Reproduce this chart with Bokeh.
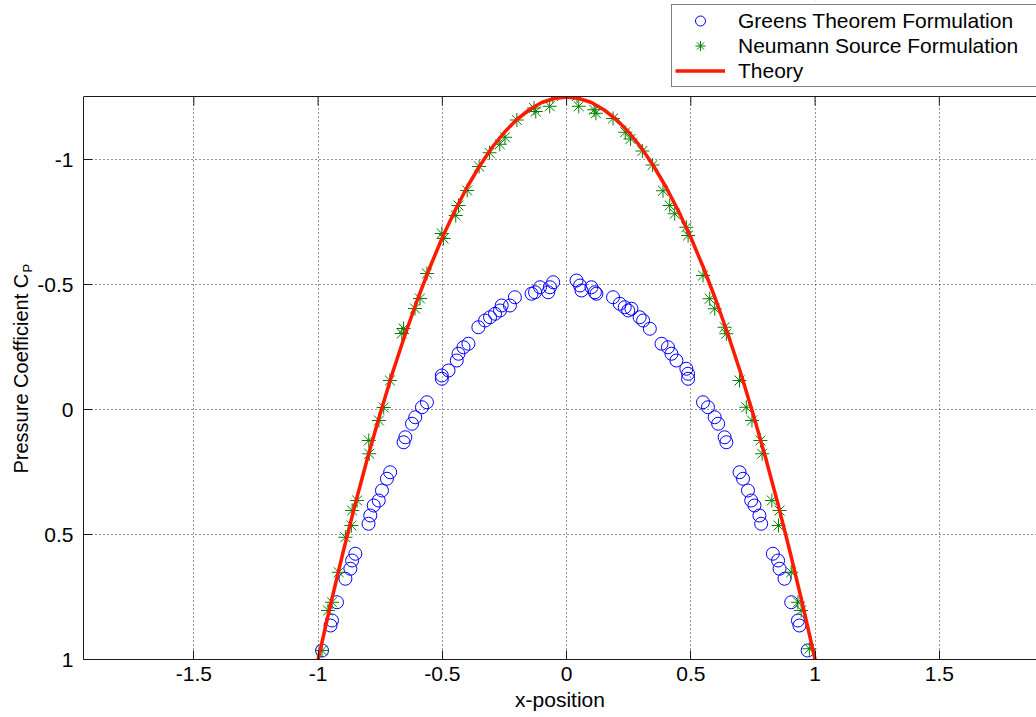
import math
from bokeh.plotting import figure
from bokeh.layouts import row
from bokeh.models import (Range1d, FixedTicker, Legend, LegendItem, Label,
                          BoxAnnotation, Span)
from bokeh.embed import file_html
from bokeh.resources import INLINE

FONT = "Liberation Sans"

# ---- data ----
theory_x = [-1.0, -0.95, -0.9, -0.85, -0.8, -0.75, -0.7, -0.65, -0.6, -0.55, -0.5,
            -0.45, -0.4, -0.35, -0.3, -0.25, -0.2, -0.15, -0.1, -0.05, 0.0,
            0.05, 0.1, 0.15, 0.2, 0.25, 0.3, 0.35, 0.4, 0.45, 0.5,
            0.55, 0.6, 0.65, 0.7, 0.75, 0.8, 0.85, 0.9, 0.95, 1.0]
theory_cp = [1.0, 0.781, 0.573, 0.376, 0.19, 0.016, -0.148, -0.299, -0.44, -0.569, -0.688,
             -0.794, -0.89, -0.974, -1.048, -1.109, -1.16, -1.199, -1.228, -1.244, -1.25,
             -1.244, -1.228, -1.199, -1.16, -1.109, -1.048, -0.974, -0.89, -0.794, -0.688,
             -0.569, -0.44, -0.299, -0.148, 0.016, 0.19, 0.376, 0.573, 0.781, 1.0]

greens_x = [-0.054, -0.067, -0.074, -0.107, -0.127, -0.141, -0.208, -0.228, -0.261, -0.268,
            -0.288, -0.308, -0.328, -0.355, -0.395, -0.415, -0.435, -0.442, -0.475, -0.502,
            -0.502, -0.562, -0.582, -0.609, -0.622, -0.649, -0.656, -0.710, -0.723, -0.743,
            -0.756, -0.776, -0.790, -0.797, -0.850, -0.863, -0.870, -0.890, -0.924, -0.944,
            -0.950, -0.984,
            0.040, 0.054, 0.060, 0.100, 0.114, 0.120, 0.187, 0.214, 0.234, 0.248,
            0.261, 0.294, 0.308, 0.335, 0.382, 0.408, 0.422, 0.442, 0.482, 0.489,
            0.489, 0.549, 0.569, 0.596, 0.610, 0.636, 0.643, 0.696, 0.710, 0.730,
            0.743, 0.756, 0.776, 0.783, 0.830, 0.851, 0.857, 0.877, 0.904, 0.931,
            0.937, 0.970]
greens_cp = [-0.509, -0.489, -0.469, -0.489, -0.469, -0.463, -0.449, -0.416, -0.416, -0.396,
             -0.383, -0.369, -0.356, -0.329, -0.263, -0.249, -0.223, -0.196, -0.156, -0.136,
             -0.123, -0.029, -0.009, 0.031, 0.057, 0.111, 0.131, 0.251, 0.277, 0.324,
             0.364, 0.384, 0.424, 0.457, 0.577, 0.604, 0.637, 0.677, 0.771, 0.844,
             0.864, 0.964,
             -0.516, -0.496, -0.476, -0.489, -0.469, -0.463, -0.449, -0.423, -0.409, -0.396,
             -0.403, -0.369, -0.356, -0.323, -0.263, -0.249, -0.223, -0.196, -0.163, -0.143,
             -0.123, -0.029, -0.009, 0.031, 0.057, 0.111, 0.131, 0.251, 0.277, 0.324,
             0.364, 0.384, 0.424, 0.457, 0.577, 0.604, 0.637, 0.677, 0.771, 0.844,
             0.864, 0.964]

neumann_x = [-0.055, -0.068, -0.124, -0.131, -0.200, -0.248, -0.269, -0.310, -0.352, -0.400,
             -0.435, -0.446, -0.502, -0.495, -0.562, -0.590, -0.610, -0.656, -0.663, -0.711,
             -0.736, -0.755, -0.796, -0.794, -0.843, -0.863, -0.866, -0.890, -0.917, -0.944,
             -0.960, -0.984,
             0.042, 0.049, 0.111, 0.118, 0.187, 0.236, 0.257, 0.305, 0.346, 0.388,
             0.415, 0.435, 0.482, 0.489, 0.549, 0.576, 0.596, 0.636, 0.643, 0.696,
             0.723, 0.746, 0.780, 0.787, 0.826, 0.857, 0.853, 0.904, 0.931, 0.944,
             0.977]
neumann_cp = [-1.254, -1.213, -1.192, -1.206, -1.158, -1.089, -1.061, -1.027, -0.972, -0.876,
              -0.816, -0.776, -0.704, -0.684, -0.544, -0.444, -0.404, -0.324, -0.304, -0.116,
              -0.008, 0.044, 0.124, 0.177, 0.364, 0.404, 0.464, 0.511, 0.651, 0.771,
              0.804, 0.964,
              -1.254, -1.213, -1.199, -1.185, -1.164, -1.109, -1.082, -1.034, -0.978, -0.875,
              -0.816, -0.783, -0.729, -0.696, -0.536, -0.443, -0.403, -0.329, -0.303, -0.116,
              -0.009, 0.044, 0.124, 0.177, 0.364, 0.404, 0.464, 0.651, 0.771, 0.804,
              0.957]

x_ticks = [-1.5, -1.0, -0.5, 0.0, 0.5, 1.0, 1.5]
x_tick_labels = ["-1.5", "-1", "-0.5", "0", "0.5", "1", "1.5"]
y_ticks = [-1.0, -0.5, 0.0, 0.5, 1.0]
y_tick_labels = ["-1", "-0.5", "0", "0.5", "1"]

series_names = ["Greens Theorem Formulation", "Neumann Source Formulation", "Theory"]
x_label = "x-position"
y_label_main = "Pressure Coefficient C"
y_label_sub = "P"

# axes limits of the plotting box (y reversed); extra headroom above holds the legend
X_MIN, X_MAX = -1.944, 1.891
Y_BOTTOM, Y_TOP = 1.0, -1.252
Y_CANVAS_TOP = -1.636

H = 717
LABEL_W = 34
AX_COLOR = "#1a1a1a"

# ---- main figure ----
p = figure(width=1036 - LABEL_W, height=H,
           min_border_left=47, min_border_right=0, min_border_top=0, min_border_bottom=58,
           x_range=Range1d(X_MIN, X_MAX), y_range=Range1d(Y_BOTTOM, Y_CANVAS_TOP),
           output_backend="svg", toolbar_location=None,
           background_fill_color="white", border_fill_color="white")
p.outline_line_color = None

def style_axis(ax, ticks, labels, standoff):
    ax.ticker = FixedTicker(ticks=ticks)
    ax.major_label_overrides = dict(zip(ticks, labels))
    ax.major_tick_in = 9
    ax.major_tick_out = 0
    ax.minor_tick_in = 0
    ax.minor_tick_out = 0
    ax.major_tick_line_color = AX_COLOR
    ax.axis_line_color = AX_COLOR
    ax.axis_line_width = 1
    ax.major_label_text_font = FONT
    ax.major_label_text_font_size = "21px"
    ax.major_label_text_color = "black"
    ax.major_label_standoff = standoff

style_axis(p.xaxis[0], x_ticks, x_tick_labels, 7)
style_axis(p.yaxis[0], y_ticks, y_tick_labels, 10)
p.yaxis.bounds = (Y_TOP, Y_BOTTOM)
p.xaxis.axis_label = x_label
p.xaxis.axis_label_text_font = FONT
p.xaxis.axis_label_text_font_size = "21px"
p.xaxis.axis_label_text_font_style = "normal"
p.xaxis.axis_label_text_color = "black"
p.xaxis.axis_label_standoff = 4

for g in (p.xgrid[0], p.ygrid[0]):
    g.grid_line_color = "black"
    g.grid_line_dash = "1 3"
    g.grid_line_alpha = 0.85
    g.grid_line_width = 1
p.xgrid.ticker = FixedTicker(ticks=x_ticks)
p.ygrid.ticker = FixedTicker(ticks=y_ticks)

r_g = p.scatter(greens_x, greens_cp, marker="circle", size=13, fill_color=None,
                line_color="#0000ff", line_width=1)
r_n = p.scatter(neumann_x, neumann_cp, marker="asterisk", size=14,
                line_color="#008000", line_width=1)
r_t = p.line(theory_x, theory_cp, line_color="#ff1a00", line_width=3.5)

# inward tick marks along the top edge of the box
tick_len = 9 / 250.0
p.segment(x0=x_ticks, y0=[Y_TOP] * len(x_ticks), x1=x_ticks,
          y1=[Y_TOP + tick_len] * len(x_ticks), line_color=AX_COLOR, line_width=1)

# blank band above the plotting box, then its top edge
p.add_layout(BoxAnnotation(left=X_MIN - 0.1, right=X_MAX + 0.1, bottom=Y_TOP,
                           top=Y_CANVAS_TOP - 0.1,
                           fill_color="white", fill_alpha=1.0, line_color=None))
p.add_layout(Span(location=Y_TOP, dimension="width", line_color=AX_COLOR, line_width=1))

legend = Legend(items=[LegendItem(label=series_names[0], renderers=[r_g]),
                       LegendItem(label=series_names[1], renderers=[r_n]),
                       LegendItem(label=series_names[2], renderers=[r_t])],
                location=(588, 572), orientation="vertical",
                label_text_font=FONT, label_text_font_size="21px", label_text_color="black",
                label_height=25, glyph_height=25, glyph_width=50, label_width=340,
                label_standoff=13, padding=3, spacing=0, margin=0,
                border_line_color="black", border_line_width=1,
                background_fill_color="white", background_fill_alpha=1.0)
p.add_layout(legend)

# ---- narrow strip holding the y-axis title (with subscript) ----
# it shares the main y scale, so its texts sit at the same heights as the plot
q = figure(width=LABEL_W, height=H, min_border=0,
           x_range=Range1d(0, LABEL_W), y_range=p.y_range,
           x_axis_location=None, y_axis_location=None,
           output_backend="svg", toolbar_location=None,
           background_fill_color="white", border_fill_color="white")
q.outline_line_color = None
q.grid.visible = False
q.add_layout(Label(x=20, y=0.256, text=y_label_main, angle=math.pi / 2,
                   text_font=FONT, text_font_size="20px", text_color="black",
                   text_align="left", text_baseline="middle"))
q.add_layout(Label(x=27, y=-0.548, text=y_label_sub, angle=math.pi / 2,
                   text_font=FONT, text_font_size="13px", text_color="black",
                   text_align="left", text_baseline="middle"))

layout = row(q, p, spacing=0)
open("out.html", "w").write(file_html(layout, INLINE))
